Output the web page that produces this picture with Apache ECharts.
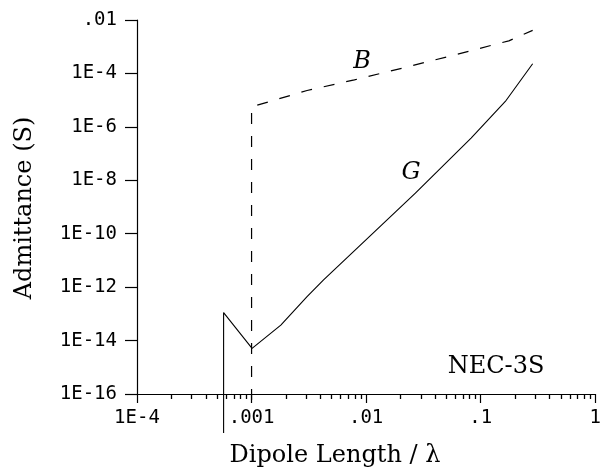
<!DOCTYPE html>
<html>
<head>
<meta charset="utf-8">
<script src="https://cdn.jsdelivr.net/npm/echarts@6/dist/echarts.min.js"></script>
<style>
html,body{margin:0;padding:0;background:#fff;}
#c{width:604px;height:473px;}
</style>
</head>
<body>
<div id="c"></div>
<script>
// ---- data ----
var xTickValues = [1e-4, 1e-3, 1e-2, 1e-1, 1];
var xTickLabels = ['1E-4', '.001', '.01', '.1', '1'];
var yTickValues = [1e-16, 1e-14, 1e-12, 1e-10, 1e-8, 1e-6, 1e-4, 1e-2];
var yTickLabels = ['1E-16', '1E-14', '1E-12', '1E-10', '1E-8', '1E-6', '1E-4', '.01'];
var minorMultipliers = [2, 3, 4, 5, 6, 7, 8, 9];
var minorDecades = [1e-4, 1e-3, 1e-2, 1e-1];

// B (susceptance), dashed
var bX = [0.001, 0.001, 0.00305, 0.0079, 0.0207, 0.0555, 0.176, 0.284];
var bY = [6e-17, 5.6e-6, 2.3e-5, 5.75e-5, 1.58e-4, 4.6e-4, 1.66e-3, 4.1e-3];
// G (conductance), solid
var gX = [0.00057, 0.00057, 0.00101, 0.0018, 0.00305, 0.00425, 0.01067, 0.0269, 0.0824, 0.164, 0.284];
var gY = [3.5e-18, 1.12e-13, 5.1e-15, 3.8e-14, 4.4e-13, 1.86e-12, 7.8e-11, 3.3e-9, 3.8e-7, 8.9e-6, 2.3e-4];

var minorTicks = [];
minorDecades.forEach(function (d) {
  minorMultipliers.forEach(function (m) { minorTicks.push(m * d); });
});

function pairs(xs, ys) { return xs.map(function (x, i) { return [x, ys[i]]; }); }
function lookup(vals, labels, v) {
  for (var i = 0; i < vals.length; i++) {
    if (Math.abs(Math.log10(vals[i]) - Math.log10(v)) < 1e-6) return labels[i];
  }
  return '';
}

var monoFont = 'DejaVu Sans Mono';
var serifFont = 'DejaVu Serif';

var chart = echarts.init(document.getElementById('c'), null, {renderer: 'canvas'});
chart.setOption({
  animation: false,
  backgroundColor: '#fff',
  grid: {left: 137, right: 2, top: 20, bottom: 79, containLabel: false},
  xAxis: [
    {
      type: 'log', logBase: 10, min: 1e-4, max: 1,
      axisLine: {show: true, onZero: false, lineStyle: {color: '#000', width: 1.2}},
      axisTick: {show: true, inside: false, length: 9, customValues: xTickValues, lineStyle: {color: '#000', width: 1.2}},
      axisLabel: {
        show: true, customValues: xTickValues, margin: 15,
        fontFamily: monoFont, fontSize: 19, color: '#000',
        formatter: function (v) { return lookup(xTickValues, xTickLabels, v); }
      },
      splitLine: {show: false}, minorTick: {show: false}, minorSplitLine: {show: false}
    },
    {
      type: 'log', logBase: 10, min: 1e-4, max: 1, position: 'bottom',
      axisLine: {show: false},
      axisTick: {show: true, inside: false, length: 5, customValues: minorTicks, lineStyle: {color: '#000', width: 1.3}},
      axisLabel: {show: false},
      splitLine: {show: false}
    }
  ],
  yAxis: {
    type: 'log', logBase: 10, min: 1e-16, max: 1e-2,
    axisLine: {show: true, onZero: false, lineStyle: {color: '#000', width: 1.2}},
    axisTick: {show: true, inside: false, length: 12, customValues: yTickValues, lineStyle: {color: '#000', width: 1.2}},
    axisLabel: {
      show: true, customValues: yTickValues, margin: 20,
      fontFamily: monoFont, fontSize: 19, color: '#000',
      formatter: function (v) { return lookup(yTickValues, yTickLabels, v); }
    },
    splitLine: {show: false}, minorTick: {show: false}
  },
  series: [
    {
      name: 'B', type: 'line', xAxisIndex: 0, data: pairs(bX, bY),
      symbol: 'none', clip: false, smooth: false,
      lineStyle: {color: '#000', width: 1.2, type: [11, 12]}
    },
    {
      name: 'G', type: 'line', xAxisIndex: 0, data: pairs(gX, gY),
      symbol: 'none', clip: false, smooth: false,
      lineStyle: {color: '#000', width: 1.1}
    }
  ],
  graphic: [
    {type: 'text', x: 25, y: 208, rotation: Math.PI / 2,
     style: {text: 'Admittance (S)', font: '24px "' + serifFont + '"', fill: '#000', align: 'center', verticalAlign: 'middle'}},
    {type: 'text', x: 335, y: 456,
     style: {text: 'Dipole Length / λ', font: '24px "' + serifFont + '"', fill: '#000', align: 'center', verticalAlign: 'middle'}},
    {type: 'text', x: 496, y: 367,
     style: {text: 'NEC-3S', font: '24px "' + serifFont + '"', fill: '#000', align: 'center', verticalAlign: 'middle'}},
    {type: 'text', x: 362, y: 62,
     style: {text: 'B', font: 'italic 24px "' + serifFont + '"', fill: '#000', align: 'center', verticalAlign: 'middle'}},
    {type: 'text', x: 411, y: 173,
     style: {text: 'G', font: 'italic 24px "' + serifFont + '"', fill: '#000', align: 'center', verticalAlign: 'middle'}}
  ]
});
</script>
</body>
</html>
